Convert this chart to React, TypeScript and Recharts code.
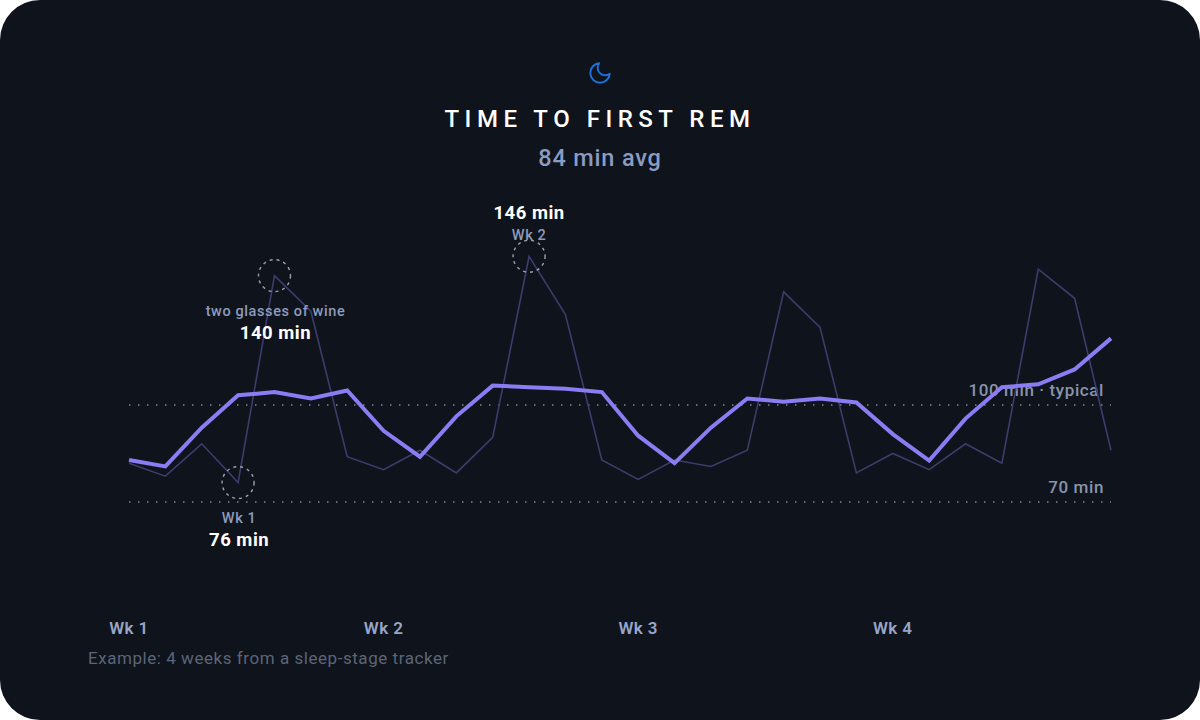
import React from "react";
import { LineChart, Line, XAxis, YAxis, ReferenceLine, ReferenceDot } from "recharts";

// 28 nights, minutes until the first REM period
const days = Array.from({ length: 28 }, (_, i) => i + 1);
const rawMinutes = [82, 78, 88, 76, 140, 129, 84, 80, 86, 79, 90, 146, 128, 83, 77, 83, 81, 86, 135, 124, 79, 85, 80, 88, 82, 142, 133, 86];
const avgMinutes = [83, 81, 93, 103, 104, 102, 104.5, 92, 84, 96.5, 106, 105.5, 105, 104, 90.5, 82, 93, 102, 101, 102, 100.8, 91, 82.8, 95.8, 105.5, 106.4, 111, 120.6];

const weekTicks = [1, 8, 15, 22];
const weekLabels = ["Wk 1", "Wk 2", "Wk 3", "Wk 4"];

const typicalMin = 100;
const lowMin = 70;

const notes = [
  { day: 4, value: 76, small: "Wk 1", big: "76 min", above: false },
  { day: 5, value: 140, small: "two glasses of wine", big: "140 min", above: false },
  { day: 12, value: 146, small: "Wk 2", big: "146 min", above: true },
];

const data = days.map((d, i) => ({ day: d, raw: rawMinutes[i], avg: avgMinutes[i] }));

const font = "Roboto, 'DejaVu Sans', sans-serif";

const NoteShape = (props: any) => {
  const { cx, cy, note } = props;
  if (cx == null || cy == null) return null;
  const small = { textAnchor: "middle" as const, fill: "#8d9bbd", fontSize: 14.5, fontWeight: 500, letterSpacing: 0.6, fontFamily: font };
  const big = { textAnchor: "middle" as const, fill: "#ffffff", fontSize: 18.5, fontWeight: 700, letterSpacing: 0.5, fontFamily: font };
  return (
    <g>
      <circle cx={cx} cy={cy} r={16} fill="none" stroke="#9ba1ae" strokeWidth={1.4} strokeDasharray="3 4" />
      {note.above ? (
        <>
          <text x={cx} y={cy - 37} {...big}>{note.big}</text>
          <text x={cx} y={cy - 16} {...small}>{note.small}</text>
        </>
      ) : (
        <>
          <text x={cx + 1} y={cy + 40} {...small}>{note.small}</text>
          <text x={cx + 1} y={cy + 63} {...big}>{note.big}</text>
        </>
      )}
    </g>
  );
};

const WeekTick = (props: any) => {
  const { x, y, payload } = props;
  const idx = weekTicks.indexOf(payload.value);
  return (
    <text x={x} y={y} dy={27} textAnchor="middle" fill="#97a6c8" fontSize={17} fontWeight={600} letterSpacing={0.4} fontFamily={font}>
      {weekLabels[idx]}
    </text>
  );
};

const refLabel = (text: string) => (props: any) => {
  const vb = props.viewBox;
  return (
    <text x={vb.x + vb.width - 7} y={vb.y - 9} textAnchor="end" fill="#8994ad" fontSize={17} fontWeight={500} letterSpacing={0.6} fontFamily={font}>
      {text}
    </text>
  );
};

export default function App() {
  return (
    <div style={{ width: 1200, height: 720, position: "relative", background: "#ffffff" }}>
      <style>{"body{margin:0;}"}</style>
      <div style={{ position: "absolute", inset: 0, background: "#0f131b", borderRadius: 40, overflow: "hidden", fontFamily: font }}>
        <svg width={26} height={26} viewBox="0 0 24 24" style={{ position: "absolute", left: 587, top: 60 }}>
          <path d="M21 12.79A9 9 0 1 1 11.21 3 7 7 0 0 0 21 12.79z" fill="none" stroke="#1f6fd6" strokeWidth={1.8} strokeLinecap="round" strokeLinejoin="round" />
        </svg>
        <div style={{ position: "absolute", top: 105, left: 0, width: 1200, textAlign: "center", color: "#ffffff", fontSize: 24, fontWeight: 500, letterSpacing: 5.5 }}>
          TIME TO FIRST REM
        </div>
        <div style={{ position: "absolute", top: 144, left: 0, width: 1200, textAlign: "center", color: "#8b9cc3", fontSize: 23.5, fontWeight: 500, letterSpacing: 0.8 }}>
          84 min avg
        </div>
        <div style={{ position: "absolute", top: 648, left: 88, color: "#5c6578", fontSize: 17, letterSpacing: 0.55 }}>
          Example: 4 weeks from a sleep-stage tracker
        </div>
        <div style={{ position: "absolute", left: 0, top: 0 }}>
          <LineChart width={1200} height={720} data={data} margin={{ top: 211, right: 89, bottom: 91, left: 129 }}>
            <XAxis
              dataKey="day"
              ticks={weekTicks}
              interval={0}
              axisLine={false}
              tickLine={false}
              tick={<WeekTick />}
              height={30}
            />
            <YAxis hide domain={[40, 160]} />
            <ReferenceLine y={typicalMin} stroke="#7d8699" strokeWidth={1.6} strokeDasharray="1.5 7.5" label={refLabel("100 min · typical")} />
            <ReferenceLine y={lowMin} stroke="#7d8699" strokeWidth={1.6} strokeDasharray="1.5 7.5" label={refLabel("70 min")} />
            <Line dataKey="raw" type="linear" stroke="#3d3c6c" strokeWidth={1.6} dot={false} isAnimationActive={false} />
            <Line dataKey="avg" type="linear" stroke="#8a7cf2" strokeWidth={4} dot={false} isAnimationActive={false} />
            {notes.map((n) => (
              <ReferenceDot key={n.day} x={n.day} y={n.value} r={16} shape={(p: any) => <NoteShape {...p} note={n} />} />
            ))}
          </LineChart>
        </div>
      </div>
    </div>
  );
}
